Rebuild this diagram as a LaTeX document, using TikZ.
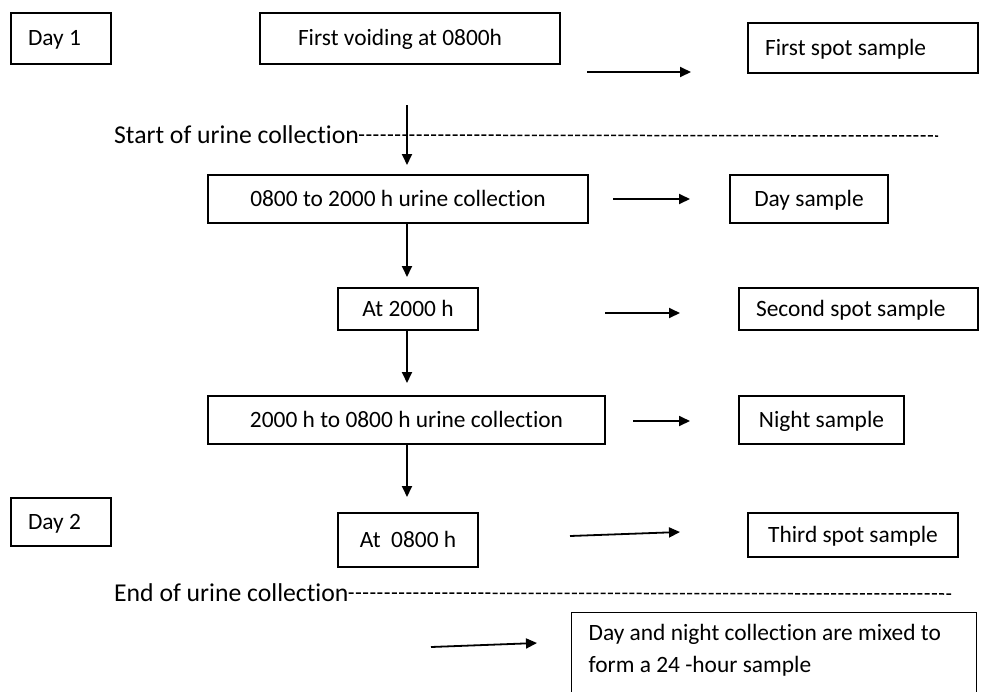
\documentclass[tikz,border=0pt]{standalone}
\usepackage{fontspec}
\setmainfont[Ligatures=NoCommon]{Carlito}
\usetikzlibrary{arrows.meta}
\newcommand{\flowfont}{\fontsize{23.4}{32}\selectfont}
\newcommand{\tagfont}{\fontsize{25.7}{32}\selectfont}
\tikzset{
  box/.style={draw, line width=1.3pt, inner sep=0pt, font=\flowfont, text height=17pt, text depth=3pt},
  lbox/.style={box, align=flush left, inner xsep=17pt, text width=#1},
  flow/.style={line width=1.8pt, -{Triangle[length=11pt,width=10pt]}},
  rule/.style={line width=1.5pt, dash pattern=on 5pt off 2.2pt},
  tag/.style={anchor=west, inner sep=0pt, font=\tagfont},
}

\begin{document}
\begin{tikzpicture}[x=1pt,y=-1pt]
  \clip (0,0) rectangle (981,691);
  % day 1
  \node[lbox=66pt, minimum height=51pt] (day1) at (61,38.5) {Day 1};
  \node[lbox=224pt, inner xsep=38pt, minimum height=51pt] (void) at (410,38.5) {First voiding at 0800h};
  \node[lbox=196pt, minimum height=50pt] (spot1) at (863,48) {First spot sample};
  \node[tag] (start) at (114,135) {Start of urine collection};
  \draw[rule] (start.east) -- (938,136);
  \node[box, minimum width=380pt, minimum height=48pt] (daycoll) at (398,199) {0800 to 2000 h urine collection};
  \node[box, minimum width=158pt, minimum height=48pt] (daysamp) at (809,199) {Day sample};
  \node[box, minimum width=140pt, minimum height=42pt] (at20) at (408,309) {At 2000 h};
  \node[lbox=205pt, minimum height=42pt] (spot2) at (858.5,309) {Second spot sample};
  \node[box, minimum width=397pt, minimum height=48pt] (nightcoll) at (406.5,420) {2000 h to 0800 h urine collection};
  \node[box, minimum width=165pt, minimum height=48pt] (nightsamp) at (821.5,420) {Night sample};
  % day 2
  \node[lbox=66pt, minimum height=48pt] (day2) at (61,522) {Day 2};
  \node[box, minimum width=140pt, minimum height=54pt] (at08) at (408,540) {At\ \ 0800 h};
  \node[box, minimum width=210pt, minimum height=44pt] (spot3) at (853,535) {Third spot sample};
  \node[tag] (end) at (114,593) {End of urine collection};
  \draw[rule] (end.east) -- (951,594);
  \node[lbox=371pt, anchor=north west, inner ysep=11pt, text depth=80pt] (mix) at (571,612)
    {Day and night collection are mixed to\\form a 24 -hour sample};

  % arrow ends
  \coordinate (h1s) at (587,72);  \coordinate (h1e) at (691,72);
  \coordinate (h2s) at (613,199); \coordinate (h2e) at (690,199);
  \coordinate (h3s) at (605,313); \coordinate (h3e) at (680,313);
  \coordinate (h4s) at (633,421); \coordinate (h4e) at (690,421);
  \coordinate (h5s) at (570,536); \coordinate (h5e) at (680,532);
  \coordinate (h6s) at (431,647); \coordinate (h6e) at (537,643);
  \coordinate (v1s) at (407,105); \coordinate (v1e) at (407,165);
  \coordinate (v2e) at (407,277);
  \coordinate (v3e) at (407,383);
  \coordinate (v4e) at (407,497);

  \draw[flow] (h1s) -- (h1e);
  \draw[flow] (h2s) -- (h2e);
  \draw[flow] (h3s) -- (h3e);
  \draw[flow] (h4s) -- (h4e);
  \draw[flow] (h5s) -- (h5e);
  \draw[flow] (h6s) -- (h6e);
  \draw[flow] (v1s) -- (v1e);
  \draw[flow] (v2e |- daycoll.south) -- (v2e);
  \draw[flow] (v3e |- at20.south) -- (v3e);
  \draw[flow] (v4e |- nightcoll.south) -- (v4e);
\end{tikzpicture}
\end{document}
